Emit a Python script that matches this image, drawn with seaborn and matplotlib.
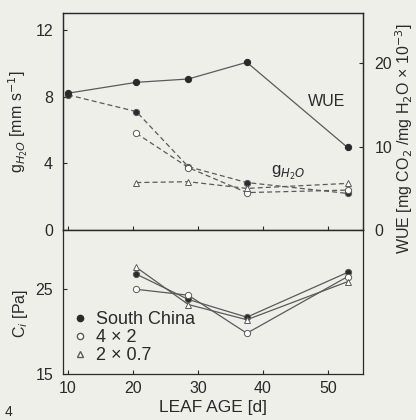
import numpy as np
import pandas as pd
import seaborn as sns
import matplotlib.pyplot as plt
from matplotlib.lines import Line2D

sns.set_style("ticks")
plt.rcParams['font.family'] = ['Liberation Sans', 'DejaVu Sans']

# leaf age [d]
age_wue = [10, 20.5, 28.5, 37.5, 53]
wue = [16.4, 17.7, 18.1, 20.1, 9.9]

age_g = [10, 20.5, 28.5, 37.5, 53]
g_south = [8.1, 7.1, 3.8, 2.85, 2.2]
age_g2 = [20.5, 28.5, 37.5, 53]
g_4x2 = [5.8, 3.75, 2.25, 2.4]
g_2x07 = [2.85, 2.9, 2.5, 2.8]

age_ci = [20.5, 28.5, 37.5, 53]
ci_south = [26.8, 23.8, 21.7, 27.0]
ci_4x2 = [25.0, 24.3, 19.8, 26.5]
ci_2x07 = [27.6, 23.2, 21.4, 25.9]

groups = ["South China", "4 \u00d7 2", "2 \u00d7 0.7"]

bg = "#efefea"
ink = "#2a2a2a"
line_c = "#5a5a5a"

fig = plt.figure(figsize=(4.16, 4.2), dpi=100, facecolor=bg)
ax1 = fig.add_axes([0.151, 0.452, 0.722, 0.517], facecolor=bg)
ax2 = fig.add_axes([0.151, 0.110, 0.722, 0.342], facecolor=bg, sharex=ax1)
ax1r = ax1.twinx()

# WUE, right axis
df_wue = pd.DataFrame({"age": age_wue, "wue": wue})
sns.lineplot(data=df_wue, x="age", y="wue", ax=ax1r, color=line_c, lw=0.9,
             marker="o", markersize=4.5, markerfacecolor=ink, markeredgecolor=ink)

# g_H2O, dashed
g_sets = [(age_g, g_south, "o", ink), (age_g2, g_4x2, "o", "white"), (age_g2, g_2x07, "^", "white")]
for a, v, m, fc in g_sets:
    d = pd.DataFrame({"age": a, "g": v})
    sns.lineplot(data=d, x="age", y="g", ax=ax1, color=line_c, lw=0.9, linestyle=(0, (4, 2.5)),
                 marker=m, markersize=4.5, markerfacecolor=fc, markeredgecolor=line_c, markeredgewidth=0.7)

# C_i, solid
ci_sets = [(ci_south, "o", ink), (ci_4x2, "o", "white"), (ci_2x07, "^", "white")]
for v, m, fc in ci_sets:
    d = pd.DataFrame({"age": age_ci, "ci": v})
    sns.lineplot(data=d, x="age", y="ci", ax=ax2, color=line_c, lw=0.9,
                 marker=m, markersize=4.5, markerfacecolor=fc, markeredgecolor=line_c, markeredgewidth=0.7)

ax1.set_xlim(9.2, 55.4)
ax1.set_ylim(0, 13)
ax1r.set_ylim(0, 26)
ax2.set_ylim(15, 32)

ax1.set_yticks([0, 4, 8, 12])
ax1r.set_yticks([0, 10, 20])
ax2.set_yticks([15, 25])
ax2.set_xticks([10, 20, 30, 40, 50])

for a in (ax1, ax1r, ax2):
    a.tick_params(direction="in", length=3, width=0.8, colors=ink, labelsize=11.5, pad=7)
    for s in a.spines.values():
        s.set_visible(True)
        s.set_color(ink)
        s.set_linewidth(0.9)
ax1.tick_params(axis="x", labelbottom=False)
ax1r.tick_params(axis="y", pad=8)
ax2.tick_params(axis="x", pad=5)

ax1.set_xlabel("")
ax1.set_ylabel("g$_{H_2O}$ [mm s$^{-1}$]", fontsize=11.5, color=ink)
ax1r.set_ylabel("WUE [mg CO$_2$ /mg H$_2$O \u00d7 10$^{-3}$]", fontsize=11.5, color=ink)
ax2.set_ylabel("C$_i$ [Pa]", fontsize=11.5, color=ink)
ax2.set_xlabel("LEAF AGE [d]", fontsize=12.5, color=ink, labelpad=3)
ax1.yaxis.set_label_coords(-0.11, 0.5)
ax2.yaxis.set_label_coords(-0.11, 0.42)
ax1r.yaxis.set_label_coords(1.1, 0.42)

ax1.text(49.8, 7.7, "WUE", fontsize=11.5, color=ink, ha="center", va="center")
ax1.text(43.8, 3.45, "g$_{H_2O}$", fontsize=12, color=ink, ha="center", va="center")

handles = [
    Line2D([], [], ls="none", marker="o", markersize=4.5, markerfacecolor=ink, markeredgecolor=ink),
    Line2D([], [], ls="none", marker="o", markersize=4.5, markerfacecolor="white", markeredgecolor=line_c),
    Line2D([], [], ls="none", marker="^", markersize=4.5, markerfacecolor="white", markeredgecolor=line_c),
]
ax2.legend(handles, groups, loc="lower left", frameon=False, fontsize=13,
           handlelength=0.8, handletextpad=0.5, labelspacing=0.05,
           borderaxespad=0.15, labelcolor=ink)

fig.text(0.01, 0.01, "4", fontsize=10, color=ink)

fig.savefig("out.png", dpi=100, facecolor=bg)
